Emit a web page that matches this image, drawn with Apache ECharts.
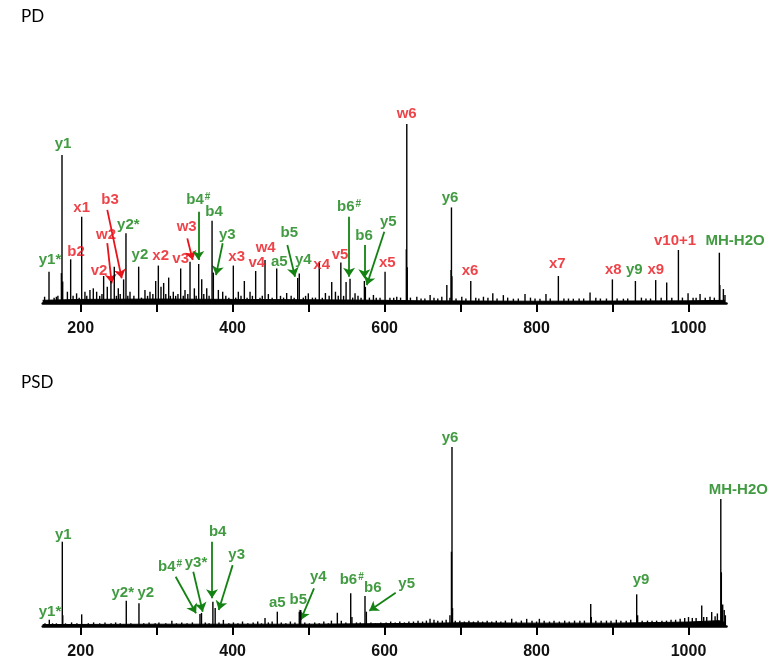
<!DOCTYPE html>
<html><head><meta charset="utf-8">
<script src="https://cdn.jsdelivr.net/npm/echarts@6/dist/echarts.min.js"></script>
<style>html,body{margin:0;padding:0;background:#fff}#c{width:773px;height:665px}</style>
</head><body><div id="c"></div>
<script>
// ---------- data ----------
const xTicks = [200,300,400,500,600,700,800,900,1000];
const xTickLabels = [200,400,600,800,1000];

// PD spectrum peaks (m/z, relative intensity, w6 = 100)
const pdMz = [152.5,158.3,165,168,170,174.6,175.4,176.3,182.5,186.8,190,194.6,198,201.3,205.6,208,212.2,216.6,221,225,228,230.2,235,239.8,244.2,247,249.5,252,256.5,259.6,262,264.9,270,276.3,280,284.6,288,291.2,295,298.7,302.2,305.7,309.2,312,315.8,318,321.9,325,328,331.6,335,337.3,341,343.9,349.6,352,355.3,359.3,362,365.9,369,372.9,374.6,381.2,386.9,391,395,400.9,404,407.5,411,415.4,419,422.9,426,430.3,436,439,442.6,447,452,458,463,467,471.1,477,481,485.6,487.7,493,496,499.6,505,509,514,518,522.1,527,530.4,535.3,539,542.4,546,549.3,554.5,558,561.1,565,569,573.4,574.7,580,585.3,589,594,600.6,607,612,616,621,628.6,629.2,629.8,634,642.4,648,653,659.9,665,670,675.3,681.9,686,687.5,688,688.6,694,701.6,707,713.4,720,724,730.1,736,742.4,748,756.3,762,769.5,776,784.8,792,798,804.5,812.4,818,828.7,836,842,848.4,856,862,870.4,878,884,892,899.8,906,914.3,920,930.1,938,944,950,956.8,964,971.3,978,986.7,992,999.4,1006,1010,1015.2,1022,1028.3,1034,1040.6,1041.2,1045.9,1048];
const pdInt = [3.5,17.5,3,3.5,4,16.7,82.7,12,6.3,24.4,4,5.4,3,48.2,6.3,4,7.3,8.2,6.3,4,5,15.1,9.1,12.3,20.3,4,8.2,5,13.2,38.9,4,6.3,4,20.3,3,7.3,4,6.3,5,12.3,20.9,9.1,11.2,5,14.2,4,6.3,4,5,19.3,4,7.3,5,23.1,8.2,4,21.8,13.2,5,8.2,4,46,17,7.3,6.3,4,3,20.9,3,6.3,4,12.3,3,6.3,4,17.9,3,4,24,5,3,19.3,4,3,5.6,4,3,14,16.5,3,4,5.4,3,3,22.6,3,5.6,4,11.7,6.3,4,22.6,4,11.7,13.6,3,5.4,4,3,12.3,9,3,4.5,3,3,17.4,3,3,3.5,3,30,100,20,3,3.5,2.5,2.5,4.5,3,2.5,3.5,10.1,3,18.4,53.4,15,2.5,3.5,2.5,12.3,3,2.5,3.5,3,5.4,2.5,4.4,3,2.4,2.5,5,3,2.5,2.4,5,2.5,15.1,2.5,2.5,2.4,2.5,2.5,5.8,3,2.5,2.5,13.2,2.5,2.4,2.5,12.3,3,2.5,2.5,12.8,3,11.5,3,29.6,3,5.4,3,3,5,3,3.5,3,28.1,10,7.8,4.4];
const pdFloorMz = [150,200,300,400,500,600,650,800,1000,1048];
const pdFloorInt = [1.5,2,2.2,2,1.8,1.5,1.2,1.0,1.2,1.5];

// PSD spectrum peaks (m/z, relative intensity, y6 = 100)
const psdMz = [153,158.7,163,168,175.8,176.4,180,188,195,201.3,210,217,225,232,240,246,252,260,266,276.7,283,290,298,303,312,320,326,333,340,347,357,359,364,369,374,377,382,387.8,395,401,407,413,420,427,433,438,442.6,447,452,458.8,464,470,476,482,487.7,489.6,495,501,508,514,520,526,530,537.8,543,549,555.4,557,563,568,574.2,576,582,588,595,602,608,614,620,626,632,638,644,650,655,659.8,665,670,676,681,686,688,688.7,689.4,693,699,705,711,717,723,729,735,741,747,753,759,767.3,773,780,787,794,800,803.7,810,817,823,830,837,843,850,857,863,871.3,872,878,885,892,898,905,911,918,924,931.8,933,939,946,952,958,965,971,977,983,989,995,1000,1005,1010,1017.4,1020,1024,1030.5,1035,1038,1042.5,1043.2,1045,1047,1048.5];
const psdInt = [1.5,3.5,1.5,1.5,47.1,6,1.5,2,1.5,6.5,1.5,2,1.5,2,1.5,2,1.5,14.1,1.5,12.7,1.5,2,1.5,2,1.5,3,1.5,2,1.5,2,6.7,7.3,2,1.5,13.6,10,2,3.4,1.5,2,1.5,2.5,1.5,2,2.5,1.5,4.5,2,2.5,8,2,1.5,2.5,2,8,9,2,1.5,2,1.5,2.5,1.5,3,7.4,3,2,18.3,5,2,2,16.8,8,2,1.5,2,2,2.5,2,2.5,2,2.5,2.5,3,2.5,3,4,3.5,3,3,3.5,6,41.5,100,10,3,3,2.5,3,2.5,3,2.5,3,2.5,3,2.5,3,4,2.5,3,4,3,2.5,4,3,2.5,3,2.5,3,2.5,3,3,3,12.3,5,3,3,3,3,3.5,3,3,3.5,17.7,6,3,3,3,3,3,3,3.5,3.5,4,4.5,5,4.5,4.5,11.5,5,5,7.8,5.5,7,71,30,12,9,6];
const psdFloorMz = [150,300,500,650,700,800,900,1000,1040,1048];
const psdFloorInt = [0.8,1,1,1.5,1.8,1.6,1.6,2.2,3,2];

// annotations
const pdLabels = ['y1*','y1','b2','x1','v2','w2','b3','y2*','y2','x2','v3','w3','b4#','b4','y3','x3','v4','w4','a5','b5','y4','x4','v5','b6#','b6','y5','x5','w6','y6','x6','x7','x8','y9','x9','v10+1','MH-H2O'];
const pdLabelMz = [159.6,176.7,193.8,201.3,224.1,233.3,238.6,262.7,278,305.3,331.6,339.5,354.8,375.5,393,405.3,431.7,443.5,461.4,474.6,493,517.2,541.3,553.2,572.9,604.9,603.6,629.1,686.1,712.4,827.4,901.1,928.7,956.9,982.3,1061.3];
const pdLabelY = [24,88.7,28.5,53,18,38,57.5,43.6,26.8,26.3,24.4,42.6,57.5,51,38,25.9,22.5,30.6,23.1,39,24,21.2,26.8,53.8,37.4,45.4,22.2,105.6,58.8,18,21.8,18.4,18.4,18.4,34.8,34.8];
const pdLabelKind = ['g','g','r','r','r','r','r','g','g','r','r','r','g','g','g','r','r','r','g','g','g','r','r','g','g','g','r','r','g','r','r','r','g','r','r','g'];
// arrows: from (mz, y) to (mz, y)
const pdArrowFromMz = [235,235,340.3,354.8,386.9,472,553.2,573.3,599.6];
const pdArrowFromY  = [33.4,52,36.1,51,33.4,32.4,48.2,32.4,39.8];
const pdArrowToMz   = [240.8,254,347.4,354.8,378.1,482.1,553.2,573.3,576.5];
const pdArrowToY    = [11,13.8,24,24,15.6,14.7,14.7,13.8,10];
const pdArrowKind   = ['r','r','r','g','g','g','g','g','g'];

const psdLabels = ['y1*','y1','y2*','y2','b4#','y3*','b4','y3','a5','b5','y4','b6#','b6','y5','y6','y9','MH-H2O'];
const psdLabelMz = [159.6,177.1,255.3,285.6,317.6,351.8,380.3,405.3,458.8,486.4,512.7,556.7,584.4,629.1,686.1,937.5,1065.6];
const psdLabelY = [7.7,50.8,18.6,18.6,33.1,35,52.7,39.7,13,14.5,27.5,25.7,21.4,23.3,105.2,25.7,76];
const psdArrowFromMz = [325,348.2,372.8,400,507.1,614.6];
const psdArrowFromY  = [27.5,30.3,47.1,34,21,18.6];
const psdArrowToMz   = [351.8,360.6,372.8,381.7,489.6,579.9];
const psdArrowToY    = [7.1,8,15.5,8.9,3.4,8.5];

// ---------- chart ----------
const COLORS = {r:'#e8141c', g:'#138213'};
const FONT = '"Liberation Sans", Arial, sans-serif';

function xAxisDef(gridIndex){
  return {
    type:'value', gridIndex, min:150, max:1050,
    splitLine:{show:false},
    axisLine:{show:true, onZero:false, lineStyle:{color:'#000', width:2.5}},
    axisTick:{show:true, customValues:xTicks, length:9, lineStyle:{color:'#000', width:2}},
    axisLabel:{show:true, customValues:xTickLabels, margin:18, color:'#111',
      fontSize:16, fontWeight:'bold', fontFamily:FONT, formatter:v=>String(v)}
  };
}
function yAxisDef(gridIndex){
  return {type:'value', gridIndex, min:0, max:100, show:false};
}
function labelSeries(names, mzs, ys, kinds, idx){
  const data = names.map((n,i)=>{
    const c = COLORS[kinds ? kinds[i] : 'g'];
    return {
      name:n, value:[mzs[i], ys[i]],
      label:{color:c, rich:{
        n:{color:c, fontSize:15, fontWeight:'bold', fontFamily:FONT},
        s:{color:c, fontSize:10, fontWeight:'bold', fontFamily:FONT, verticalAlign:'top', padding:[0,0,0,1]}
      }}
    };
  });
  return {
    type:'scatter', xAxisIndex:idx, yAxisIndex:idx, clip:false, silent:true,
    symbolSize:1, itemStyle:{color:'rgba(0,0,0,0)'},
    label:{show:true, position:'inside',
      formatter:p=> p.name.endsWith('#') ? '{n|'+p.name.slice(0,-1)+'}{s|#}' : '{n|'+p.name+'}'},
    data
  };
}
function arrowSeries(fm, fy, tm, ty, kinds, idx){
  return {
    type:'lines', coordinateSystem:'cartesian2d', xAxisIndex:idx, yAxisIndex:idx,
    silent:true, symbol:['none','arrow'], symbolSize:9, clip:false,
    data: fm.map((m,i)=>({coords:[[m,fy[i]],[tm[i],ty[i]]],
      lineStyle:{color:COLORS[kinds ? kinds[i] : 'g'], width:1.8, opacity:1}}))
  };
}
function peakSeries(mz, inten, idx){
  return {type:'bar', xAxisIndex:idx, yAxisIndex:idx, barWidth:1.4, silent:true,
    itemStyle:{color:'#000'}, data: mz.map((m,i)=>[m, inten[i]])};
}
function floorSeries(mz, inten, idx){
  return {type:'line', xAxisIndex:idx, yAxisIndex:idx, silent:true, showSymbol:false,
    lineStyle:{color:'#000', width:1}, areaStyle:{color:'#000', opacity:1},
    data: mz.map((m,i)=>[m, inten[i]])};
}

const chart = echarts.init(document.getElementById('c'), null, {renderer:'canvas'});
chart.setOption({
  animation:false,
  backgroundColor:'#fff',
  title:[
    {text:'PD', left:16, top:3, textStyle:{fontSize:17, fontWeight:'normal', color:'#000', fontFamily:'Lato, "Open Sans", sans-serif'}},
    {text:'PSD', left:16, top:369, textStyle:{fontSize:17, fontWeight:'normal', color:'#000', fontFamily:'Lato, "Open Sans", sans-serif'}}
  ],
  grid:[
    {left:42.7, right:46.5, top:124, height:179},
    {left:42.7, right:46.5, top:447, height:179}
  ],
  xAxis:[xAxisDef(0), xAxisDef(1)],
  yAxis:[yAxisDef(0), yAxisDef(1)],
  series:[
    floorSeries(pdFloorMz, pdFloorInt, 0),
    peakSeries(pdMz, pdInt, 0),
    floorSeries(psdFloorMz, psdFloorInt, 1),
    peakSeries(psdMz, psdInt, 1),
    arrowSeries(pdArrowFromMz, pdArrowFromY, pdArrowToMz, pdArrowToY, pdArrowKind, 0),
    arrowSeries(psdArrowFromMz, psdArrowFromY, psdArrowToMz, psdArrowToY, null, 1),
    labelSeries(pdLabels, pdLabelMz, pdLabelY, pdLabelKind, 0),
    labelSeries(psdLabels, psdLabelMz, psdLabelY, null, 1)
  ]
});
</script></body></html>
